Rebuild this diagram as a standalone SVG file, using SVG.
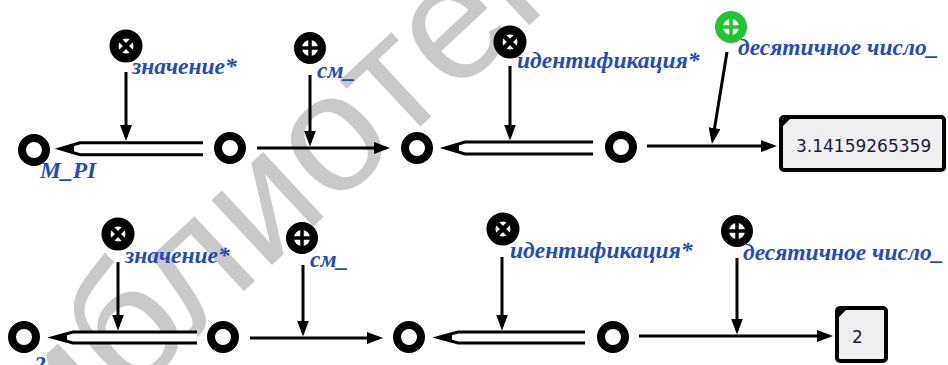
<svg xmlns="http://www.w3.org/2000/svg" width="948" height="365" viewBox="0 0 948 365">
<style>
  .wm{font-family:"Liberation Sans","DejaVu Sans",sans-serif;font-size:168px;fill:#c9c9c9}
  .ring{fill:#fff;stroke:#000;stroke-width:8}
  .wire{fill:none;stroke:#000;stroke-width:3}
  .dbl{fill:#fff;stroke:#000;stroke-width:3}
  .tip{fill:#000}
  .lbl{font-family:"Liberation Serif","DejaVu Serif",serif;font-style:italic;font-weight:bold;font-size:23.5px;fill:#1f4cbf}
  .val{font-family:"DejaVu Sans",sans-serif;font-size:17px;fill:#1c1c3a}
  .box{fill:#efefef;stroke:#000;stroke-width:4}
</style>
<defs>
  <marker id="ah" viewBox="0 0 16 12" refX="12" refY="6" markerWidth="16" markerHeight="12" markerUnits="userSpaceOnUse" orient="auto">
    <path d="M0,0 L16,6 L0,12 Z" fill="#000"/>
  </marker>
  <g id="otimes">
    <circle r="12" fill="#fff" stroke="currentColor" stroke-width="9"/>
    <path d="M-6,-6 L6,6 M-6,6 L6,-6" stroke="currentColor" stroke-width="4.5"/>
  </g>
  <g id="oplus">
    <circle r="12" fill="#fff" stroke="currentColor" stroke-width="8"/>
    <path d="M-9,0 H9 M0,-9 V9" stroke="currentColor" stroke-width="3.5"/>
  </g>
</defs>

<!-- background watermark -->
<rect width="948" height="365" fill="#fff"/>
<text class="wm" x="-12" y="530" transform="rotate(-43 -12 530)">библиотека</text>

<!-- connectors -->
<g id="connectors">
  <!-- row 1 -->
  <path class="dbl" d="M203,142.75 H80 L60,148.75 L80,154.75 H203"/>
  <path class="tip" d="M59,148.75 L74,144 L74,153.5 Z"/>
  <line class="wire" x1="126" y1="72" x2="126" y2="137" marker-end="url(#ah)"/>
  <line class="wire" x1="257" y1="148" x2="386" y2="148" marker-end="url(#ah)"/>
  <line class="wire" x1="310" y1="75" x2="310" y2="142.5" marker-end="url(#ah)"/>
  <path class="dbl" d="M593,142 H465 L445,148 L465,154 H593"/>
  <path class="tip" d="M444,148 L459,143.25 L459,152.75 Z"/>
  <line class="wire" x1="510" y1="66" x2="510" y2="136.5" marker-end="url(#ah)"/>
  <line class="wire" x1="647" y1="146" x2="773" y2="146" marker-end="url(#ah)"/>
  <line class="wire" x1="727" y1="52" x2="712.6" y2="140" marker-end="url(#ah)"/>

  <!-- row 2 -->
  <path class="dbl" d="M197,332 H73 L53,337.5 L73,343 H197"/>
  <path class="tip" d="M52,337.5 L67,333 L67,342 Z"/>
  <line class="wire" x1="118" y1="262" x2="118" y2="326.5" marker-end="url(#ah)"/>
  <line class="wire" x1="250" y1="338" x2="379" y2="338" marker-end="url(#ah)"/>
  <line class="wire" x1="303" y1="265" x2="303" y2="332.5" marker-end="url(#ah)"/>
  <path class="dbl" d="M585,332 H458 L438,337.5 L458,343 H585"/>
  <path class="tip" d="M437,337.5 L452,333 L452,342 Z"/>
  <line class="wire" x1="502" y1="257" x2="502" y2="326.5" marker-end="url(#ah)"/>
  <line class="wire" x1="639" y1="336" x2="829" y2="336" marker-end="url(#ah)"/>
  <line class="wire" x1="737" y1="258" x2="737" y2="330.5" marker-end="url(#ah)"/>
</g>

<!-- row 1 nodes -->
<g id="n1-mpi"><circle class="ring" cx="34" cy="150" r="12"/><text class="lbl" x="40" y="178">M_PI</text></g>
<g id="n1-a"><circle class="ring" cx="230" cy="148" r="12"/></g>
<g id="n1-b"><circle class="ring" cx="417" cy="148" r="12"/></g>
<g id="n1-c"><circle class="ring" cx="621" cy="147" r="12"/></g>
<g id="n1-val"><use href="#otimes" x="126" y="46" color="#000"/><text class="lbl" x="132" y="74">значение*</text></g>
<g id="n1-cm"><use href="#oplus" x="310" y="48" color="#000"/><text class="lbl" x="317" y="78">см_</text></g>
<g id="n1-id"><use href="#otimes" x="510" y="42" color="#000"/><text class="lbl" x="517" y="68">идентификация*</text></g>
<g id="n1-dec"><use href="#oplus" x="731" y="27" color="#22c432"/><text class="lbl" x="738" y="55">десятичное число_</text></g>
<g id="n1-out">
  <rect class="box" x="781" y="117" width="163" height="53" rx="3"/>
  <path d="M781,117 H792 L781,128 Z" fill="#000"/>
  <text class="val" x="796" y="152">3.14159265359</text>
</g>

<!-- row 2 nodes -->
<g id="n2-two"><circle class="ring" cx="24" cy="337" r="12"/><text class="lbl" x="34" y="372">2</text></g>
<g id="n2-a"><circle class="ring" cx="223" cy="337" r="12"/></g>
<g id="n2-b"><circle class="ring" cx="409" cy="337" r="12"/></g>
<g id="n2-c"><circle class="ring" cx="613" cy="337" r="12"/></g>
<g id="n2-val"><use href="#otimes" x="118" y="234" color="#000"/><text class="lbl" x="125" y="263">значение*</text></g>
<g id="n2-cm"><use href="#oplus" x="302" y="238" color="#000"/><text class="lbl" x="310" y="267">см_</text></g>
<g id="n2-id"><use href="#otimes" x="503" y="229" color="#000"/><text class="lbl" x="510" y="258">идентификация*</text></g>
<g id="n2-dec"><use href="#oplus" x="737" y="231" color="#000"/><text class="lbl" x="743" y="260">десятичное число_</text></g>
<g id="n2-out">
  <rect class="box" x="837" y="308" width="49" height="53" rx="3"/>
  <path d="M837,308 H848 L837,319 Z" fill="#000"/>
  <text class="val" x="852" y="343">2</text>
</g>
</svg>
